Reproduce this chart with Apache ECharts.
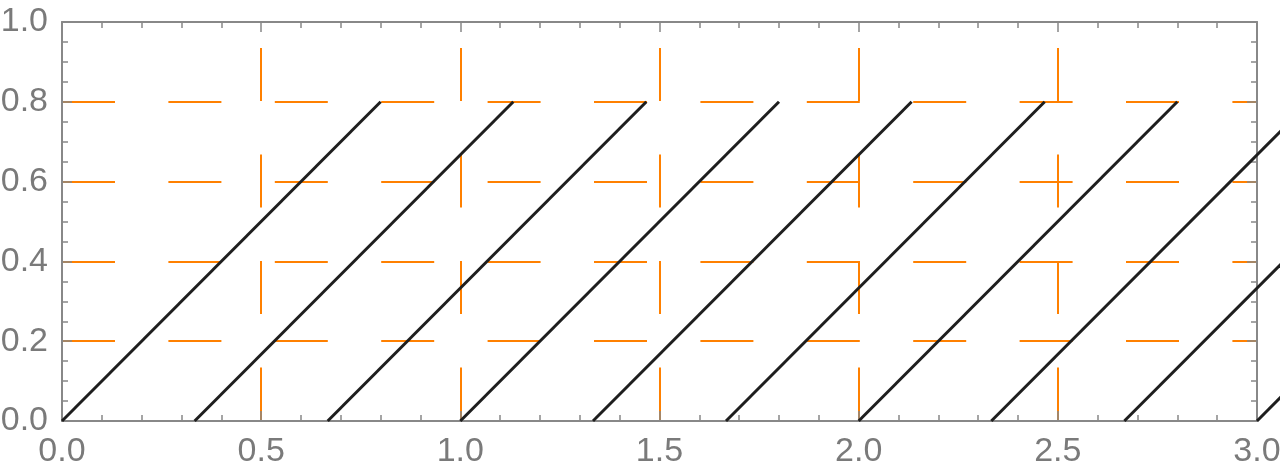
<!DOCTYPE html>
<html><head><meta charset="utf-8">
<script src="https://cdn.jsdelivr.net/npm/echarts@6/dist/echarts.min.js"></script>
<style>html,body{margin:0;padding:0;background:#fff}#c{width:1280px;height:469px}</style>
</head><body><div id="c"></div>
<script>
// Data
const segStartX = [0, 0.333, 0.667, 1.0, 1.333, 1.667, 2.0, 2.333, 2.667, 3.0];
const segEndX   = [0.8, 1.133, 1.467, 1.8, 2.133, 2.467, 2.8, 3.133, 3.467, 3.8];
const segStartY = [0, 0, 0, 0, 0, 0, 0, 0, 0, 0];
const segEndY   = [0.8, 0.8, 0.8, 0.8, 0.8, 0.8, 0.8, 0.8, 0.8, 0.8];
const xRange = [0, 3];
const yRange = [0, 1];
const xTickStep = 0.5;
const yTickStep = 0.2;

const frameColor = '#888888';
const labelColor = '#7a7a7a';
const gridColor = '#ff8000';

const chart = echarts.init(document.getElementById('c'), null, {renderer: 'canvas'});

function frameAxis(base, showLabels, minorSplit) {
  return Object.assign({
    type: 'value',
    z: 1,
    axisLine: {show: true, onZero: false, lineStyle: {color: frameColor, width: 2}},
    axisTick: {show: true, inside: true, length: 10, lineStyle: {color: frameColor, width: 1.5}},
    minorTick: {show: true, splitNumber: minorSplit, length: 6, lineStyle: {color: frameColor, width: 1.5}},
    splitLine: {show: false},
    axisLabel: showLabels ? {
      show: true, color: labelColor, fontSize: 34, fontFamily: 'Liberation Sans, Arial, sans-serif',
      margin: 14, showMinLabel: true, showMaxLabel: true, hideOverlap: false,
      formatter: v => v.toFixed(1)
    } : {show: false}
  }, base);
}

const segData = segStartX.map((x0, i) => [x0, segStartY[i], segEndX[i], segEndY[i]]);

chart.setOption({
  animation: false,
  backgroundColor: '#fff',
  grid: {left: 62, right: 23, top: 22, bottom: 48, containLabel: false, outerBoundsMode: 'none'},
  xAxis: [
    frameAxis({position: 'bottom', min: xRange[0], max: xRange[1], interval: xTickStep}, true, 5),
    frameAxis({position: 'top', min: xRange[0], max: xRange[1], interval: xTickStep}, false, 5),
    {type: 'value', position: 'bottom', min: xRange[0], max: xRange[1], interval: xTickStep, z: 0,
     axisLine: {show: false}, axisTick: {show: false}, axisLabel: {show: false},
     splitLine: {show: true, showMinLine: false, showMaxLine: false,
       lineStyle: {color: gridColor, width: 2, type: [53, 53.5], dashOffset: 80.5}}}
  ],
  yAxis: [
    frameAxis({position: 'left', min: yRange[0], max: yRange[1], interval: yTickStep}, true, 4),
    frameAxis({position: 'right', min: yRange[0], max: yRange[1], interval: yTickStep}, false, 4),
    {type: 'value', position: 'left', min: yRange[0], max: yRange[1], interval: yTickStep, z: 0,
     axisLine: {show: false}, axisTick: {show: false}, axisLabel: {show: false},
     splitLine: {show: true, showMinLine: false, showMaxLine: false,
       lineStyle: {color: gridColor, width: 2, type: [53, 53.4], dashOffset: 0}}}
  ],
  series: [{
    type: 'custom',
    xAxisIndex: 0, yAxisIndex: 0,
    clip: false, silent: true, z: 3,
    data: segData,
    encode: {x: [0, 2], y: [1, 3]},
    renderItem: function (params, api) {
      const p0 = api.coord([api.value(0), api.value(1)]);
      const p1 = api.coord([api.value(2), api.value(3)]);
      return {
        type: 'line',
        shape: {x1: p0[0], y1: p0[1], x2: p1[0], y2: p1[1]},
        style: {stroke: '#1e1e1e', lineWidth: 3, lineCap: 'butt'}
      };
    }
  }]
});
</script></body></html>
